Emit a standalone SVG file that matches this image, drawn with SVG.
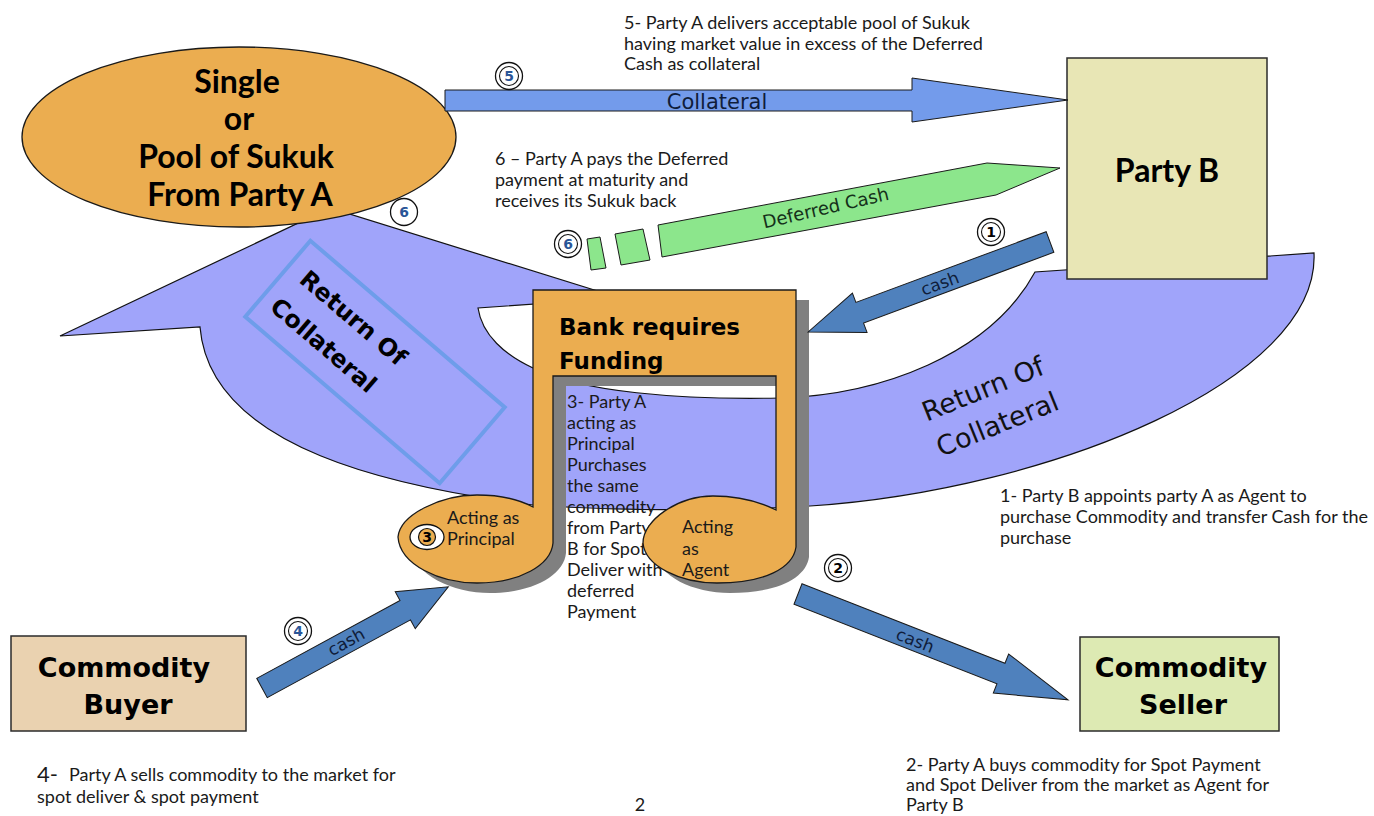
<svg xmlns="http://www.w3.org/2000/svg" width="1374" height="816" viewBox="0 0 1374 816" xml:space="preserve">
<defs>
<style>
.desc{font-family:Lato,"Liberation Sans",sans-serif;font-size:18px;fill:#1a1a1a;white-space:pre}
.box{stroke:#2b2b2b;stroke-width:1.5}
.title{font-family:"DejaVu Sans",sans-serif;font-weight:bold;fill:#000;text-anchor:middle}
.calb{font-family:Lato,"Liberation Sans",sans-serif;font-weight:bold;fill:#000;text-anchor:middle}
.cash{fill:#4F81BD;stroke:#1a1a1a;stroke-width:1}
.lbl{font-family:"DejaVu Sans",sans-serif;fill:#0f1d3a;text-anchor:middle}
.mk{fill:#fff;stroke:#111;stroke-width:1.3}
.mki{fill:none;stroke:#111;stroke-width:1.1}
.num{font-family:"DejaVu Sans",sans-serif;font-weight:bold;font-size:14px;text-anchor:middle}
.blue{fill:#2a5597}
.note{fill:#EBAD50;stroke:#1a1a1a;stroke-width:1.3}
</style>
</defs>
<rect width="1374" height="816" fill="#fff"/>
<g id="connectors-back">
<path id="return-band" d="M60,336 L330,208 L620,298 L478,308 C482,335 505,355 533,368 C580,392 680,400 780,398 C880,395 990,355 1035,272 L1314,253 C1320,380 1050,490 810,506 C720,512 600,510 533,505 C400,488 210,450 200,327 Z" fill="#A0A4FA" stroke="#111" stroke-width="1.2"/>
<rect x="-128" y="-50" width="256" height="100" transform="translate(375,362) rotate(40.6)" fill="none" stroke="#6E9DEA" stroke-width="4"/>
<g transform="translate(375,362) rotate(40.6)" class="title" font-size="24"><text x="-45" y="-11">Return Of</text><text x="-50" y="29">Collateral</text></g>
<g transform="translate(990,406) rotate(-22)" class="lbl" font-size="27" style="fill:#111"><text x="0" y="-9">Return Of</text><text x="0" y="29">Collateral</text></g>
</g>
<g id="sukuk-pool">
<ellipse cx="239" cy="137" rx="217" ry="90" fill="#EBAD50" stroke="#1a1a1a" stroke-width="1.3"/>
<g class="calb" font-size="32"><text x="237" y="93">Single</text><text x="239" y="130">or</text><text x="236" y="168">Pool of Sukuk</text><text x="240" y="206">From Party A</text></g>
</g>
<g id="party-b">
<rect x="1067" y="58" width="200" height="221" fill="#E8E6B5" class="box"/>
<text x="1167" y="182" class="calb" font-size="32">Party B</text>
</g>
<g id="note-text">
<g class="desc" font-size="19"><text x="567" y="408">3- Party A</text><text x="567" y="429">acting as</text><text x="567" y="450">Principal</text><text x="567" y="471">Purchases</text><text x="567" y="492">the same</text><text x="567" y="513">commodity</text><text x="567" y="534">from  Party</text><text x="567" y="555">B for Spot</text><text x="567" y="576">Deliver with</text><text x="567" y="597">deferred</text><text x="567" y="618">Payment</text></g>
</g>
<g id="bank">
<path transform="translate(13,10)" fill="#808080" d="M533,290 L796,290 L796,547 C793,568 765,583 717,583 C680,583 645,566 643,543 C643,520 678,496 713,496 C740,496 760,502 776,510 L776,376 L553,376 L553,543 C551,565 520,583 477,583 C440,583 400,565 398,537 C400,515 440,495 477,495 C500,495 520,500 533,507 Z"/>
<path class="note" d="M533,290 L796,290 L796,547 C793,568 765,583 717,583 C680,583 645,566 643,543 C643,520 678,496 713,496 C740,496 760,502 776,510 L776,376 L553,376 L553,543 C551,565 520,583 477,583 C440,583 400,565 398,537 C400,515 440,495 477,495 C500,495 520,500 533,507 Z"/>
<g class="title" style="text-anchor:start" font-size="23"><text x="559" y="335">Bank requires</text><text x="559" y="369">Funding</text></g>
<g class="desc" font-size="17.5"><text x="447" y="524">Acting as</text><text x="447" y="545">Principal</text><text x="682" y="533">Acting</text><text x="682" y="555">as</text><text x="682" y="576">Agent</text></g>
<ellipse cx="427" cy="537" rx="17" ry="12.5" class="mk"/>
<circle cx="427" cy="537" r="8.5" fill="#EBAD50" stroke="#111" stroke-width="1.2"/>
<text x="427" y="542" class="num" font-size="13">3</text>
</g>
<g id="commodity-buyer">
<rect x="11" y="636" width="235" height="95" fill="#EAD2B0" class="box"/>
<g class="title" font-size="27"><text x="124" y="677">Commodity</text><text x="128" y="714">Buyer</text></g>
</g>
<g id="commodity-seller">
<rect x="1080" y="637" width="199" height="94" fill="#DDEAB3" class="box"/>
<g class="title" font-size="27"><text x="1181" y="677">Commodity</text><text x="1183" y="714">Seller</text></g>
</g>
<g id="connectors">
<path id="collateral-arrow" d="M445,90 L912,90 L912,78 L1068,100 L912,122 L912,111 L445,111 Z" fill="#739BEB" stroke="#1a1a1a" stroke-width="1"/>
<text x="717" y="109" class="lbl" font-size="21">Collateral</text>
<g id="deferred-cash" fill="#8CE68C" stroke="#1a1a1a" stroke-width="1">
<path d="M658,225 L987,163 L1060,168 L996,195 L662,257 Z"/>
<path d="M615,234 L643,229 L650,260 L621,265 Z"/>
<path d="M587,239 L600,237 L606,268 L591,270 Z"/>
</g>
<text transform="translate(827,214) rotate(-13)" class="lbl" font-size="18" style="fill:#15301a">Deferred Cash</text>
<path class="cash" transform="translate(1050,242) rotate(159.6)" d="M0,-11 L203,-11 L203,-21 L258,0 L203,21 L203,11 L0,11 Z"/>
<text transform="translate(942,289) rotate(-20.4)" class="lbl" font-size="17">cash</text>
<path class="cash" transform="translate(798,594) rotate(21.4)" d="M0,-11 L218,-11 L218,-21 L290,0 L218,21 L218,11 L0,11 Z"/>
<text transform="translate(913,646) rotate(21.4)" class="lbl" font-size="17">cash</text>
<path class="cash" transform="translate(262,688) rotate(-28.5)" d="M0,-11 L163,-11 L163,-21 L212,0 L163,21 L163,11 L0,11 Z"/>
<text transform="translate(349,647) rotate(-28.5)" class="lbl" font-size="17">cash</text>
</g>
<g id="markers">
<g id="m5"><circle cx="509" cy="76" r="13.5" class="mk"/><circle cx="509" cy="76" r="9.5" class="mki"/><text x="509" y="81" class="num blue">5</text></g>
<g id="m6a"><circle cx="404" cy="212" r="13.5" class="mk"/><text x="404" y="217" class="num blue">6</text></g>
<g id="m6b"><circle cx="568" cy="244" r="13.5" class="mk"/><circle cx="568" cy="244" r="9.5" class="mki"/><text x="568" y="249" class="num blue">6</text></g>
<g id="m1"><circle cx="991" cy="232" r="13.5" class="mk"/><circle cx="991" cy="232" r="9.5" class="mki"/><text x="991" y="237" class="num">1</text></g>
<g id="m2"><circle cx="838" cy="568" r="13.5" class="mk"/><circle cx="838" cy="568" r="9.5" class="mki"/><text x="838" y="573" class="num">2</text></g>
<g id="m4"><circle cx="298" cy="631" r="13.5" class="mk"/><circle cx="298" cy="631" r="9.5" class="mki"/><text x="298" y="636" class="num blue">4</text></g>
</g>
<g id="notes">
<g class="desc"><text x="624" y="29">5-  Party A delivers acceptable pool of Sukuk</text><text x="624" y="50">having market value in excess of the Deferred</text><text x="624" y="70">Cash as collateral</text></g>
<g class="desc"><text x="495" y="165">6 – Party A pays the Deferred</text><text x="495" y="186">payment at maturity and</text><text x="495" y="207">receives its Sukuk back</text></g>
<g class="desc"><text x="1000" y="502">1- Party B appoints party  A as Agent to</text><text x="1000" y="523">purchase Commodity and transfer Cash for the</text><text x="1000" y="544">purchase</text></g>
<g class="desc" font-size="17.5"><text x="906" y="771">2-  Party A buys commodity for Spot Payment</text><text x="906" y="791">and Spot Deliver from the market as Agent for</text><text x="906" y="811">Party B</text></g>
<g class="desc"><text x="37" y="782" font-size="22">4-</text><text x="69" y="781">Party A sells commodity to the market for</text><text x="37" y="803">spot deliver &amp; spot payment</text></g>
<text x="640" y="811" class="desc" font-size="14" text-anchor="middle">2</text>
</g>
</svg>
